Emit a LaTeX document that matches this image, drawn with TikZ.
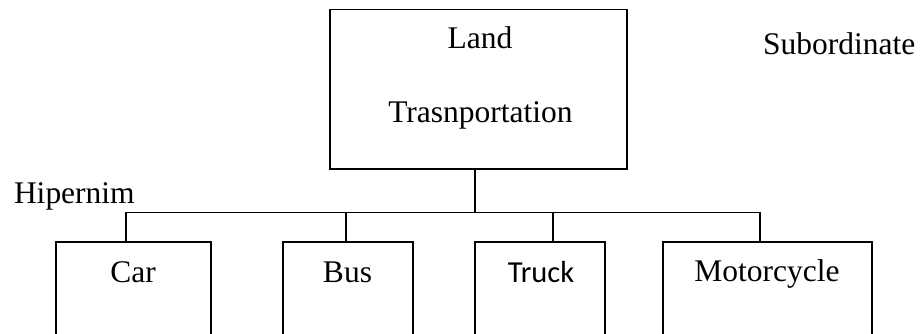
\documentclass[tikz,border=0pt]{standalone}
\usepackage{fontspec}
\setmainfont{Liberation Serif}
\newfontfamily\labelsans{Carlito}
\begin{document}
\begin{tikzpicture}[x=1pt,y=-1pt,
  every node/.style={inner sep=0pt, outer sep=0pt},
  box/.style={draw, line width=1.8pt, minimum height=96pt},
  word/.style={anchor=base, font=\fontsize{31.5}{38}\selectfont},
  link/.style={line width=1.8pt}]
\useasboundingbox (0,0) rectangle (922,334);

% parent concept
\node[draw, line width=1.8pt, minimum width=297pt, minimum height=159.5pt] (land) at (478.5,89.25) {};
\node[word] (landA) at (480,49) {Land};
\node[word] (landB) at (480.5,123) {Trasnportation};

% side labels
\node[word, anchor=base west] (hyper) at (14,204) {Hipernim};
\node[word, anchor=base west] (subord) at (763,55) {Subordinate};

% child concepts (boxes run past the lower edge)
\node[box, minimum width=155pt, anchor=north] (car) at (133.5,242) {};
\node[box, minimum width=130pt, anchor=north] (bus) at (348,242) {};
\node[box, minimum width=130pt, anchor=north] (truck) at (540,242) {};
\node[box, minimum width=209pt, anchor=north] (moto) at (767.5,242) {};

\node[word] (carT) at (133,282) {Car};
\node[word] (busT) at (347.5,282) {Bus};
\node[word, font=\labelsans\fontsize{30.5}{36}\selectfont] (truckT) at (541,282) {Truck};
\node[word] (motoT) at (767,281) {Motorcycle};

% branching connectors
\coordinate (barL) at (126,212.5);
\coordinate (barR) at (760,212.5);
\coordinate (stem) at (475,212.5);
\coordinate (tapBus) at (346,212.5);
\coordinate (tapTruck) at (553,212.5);

\draw[link] (barL) -- (barR);
\draw[link] (stem |- land.south) -- (stem);
\draw[link] (barL) -- (barL |- car.north);
\draw[link] (tapBus) -- (tapBus |- bus.north);
\draw[link] (tapTruck) -- (tapTruck |- truck.north);
\draw[link] (barR) -- (barR |- moto.north);
\end{tikzpicture}
\end{document}
